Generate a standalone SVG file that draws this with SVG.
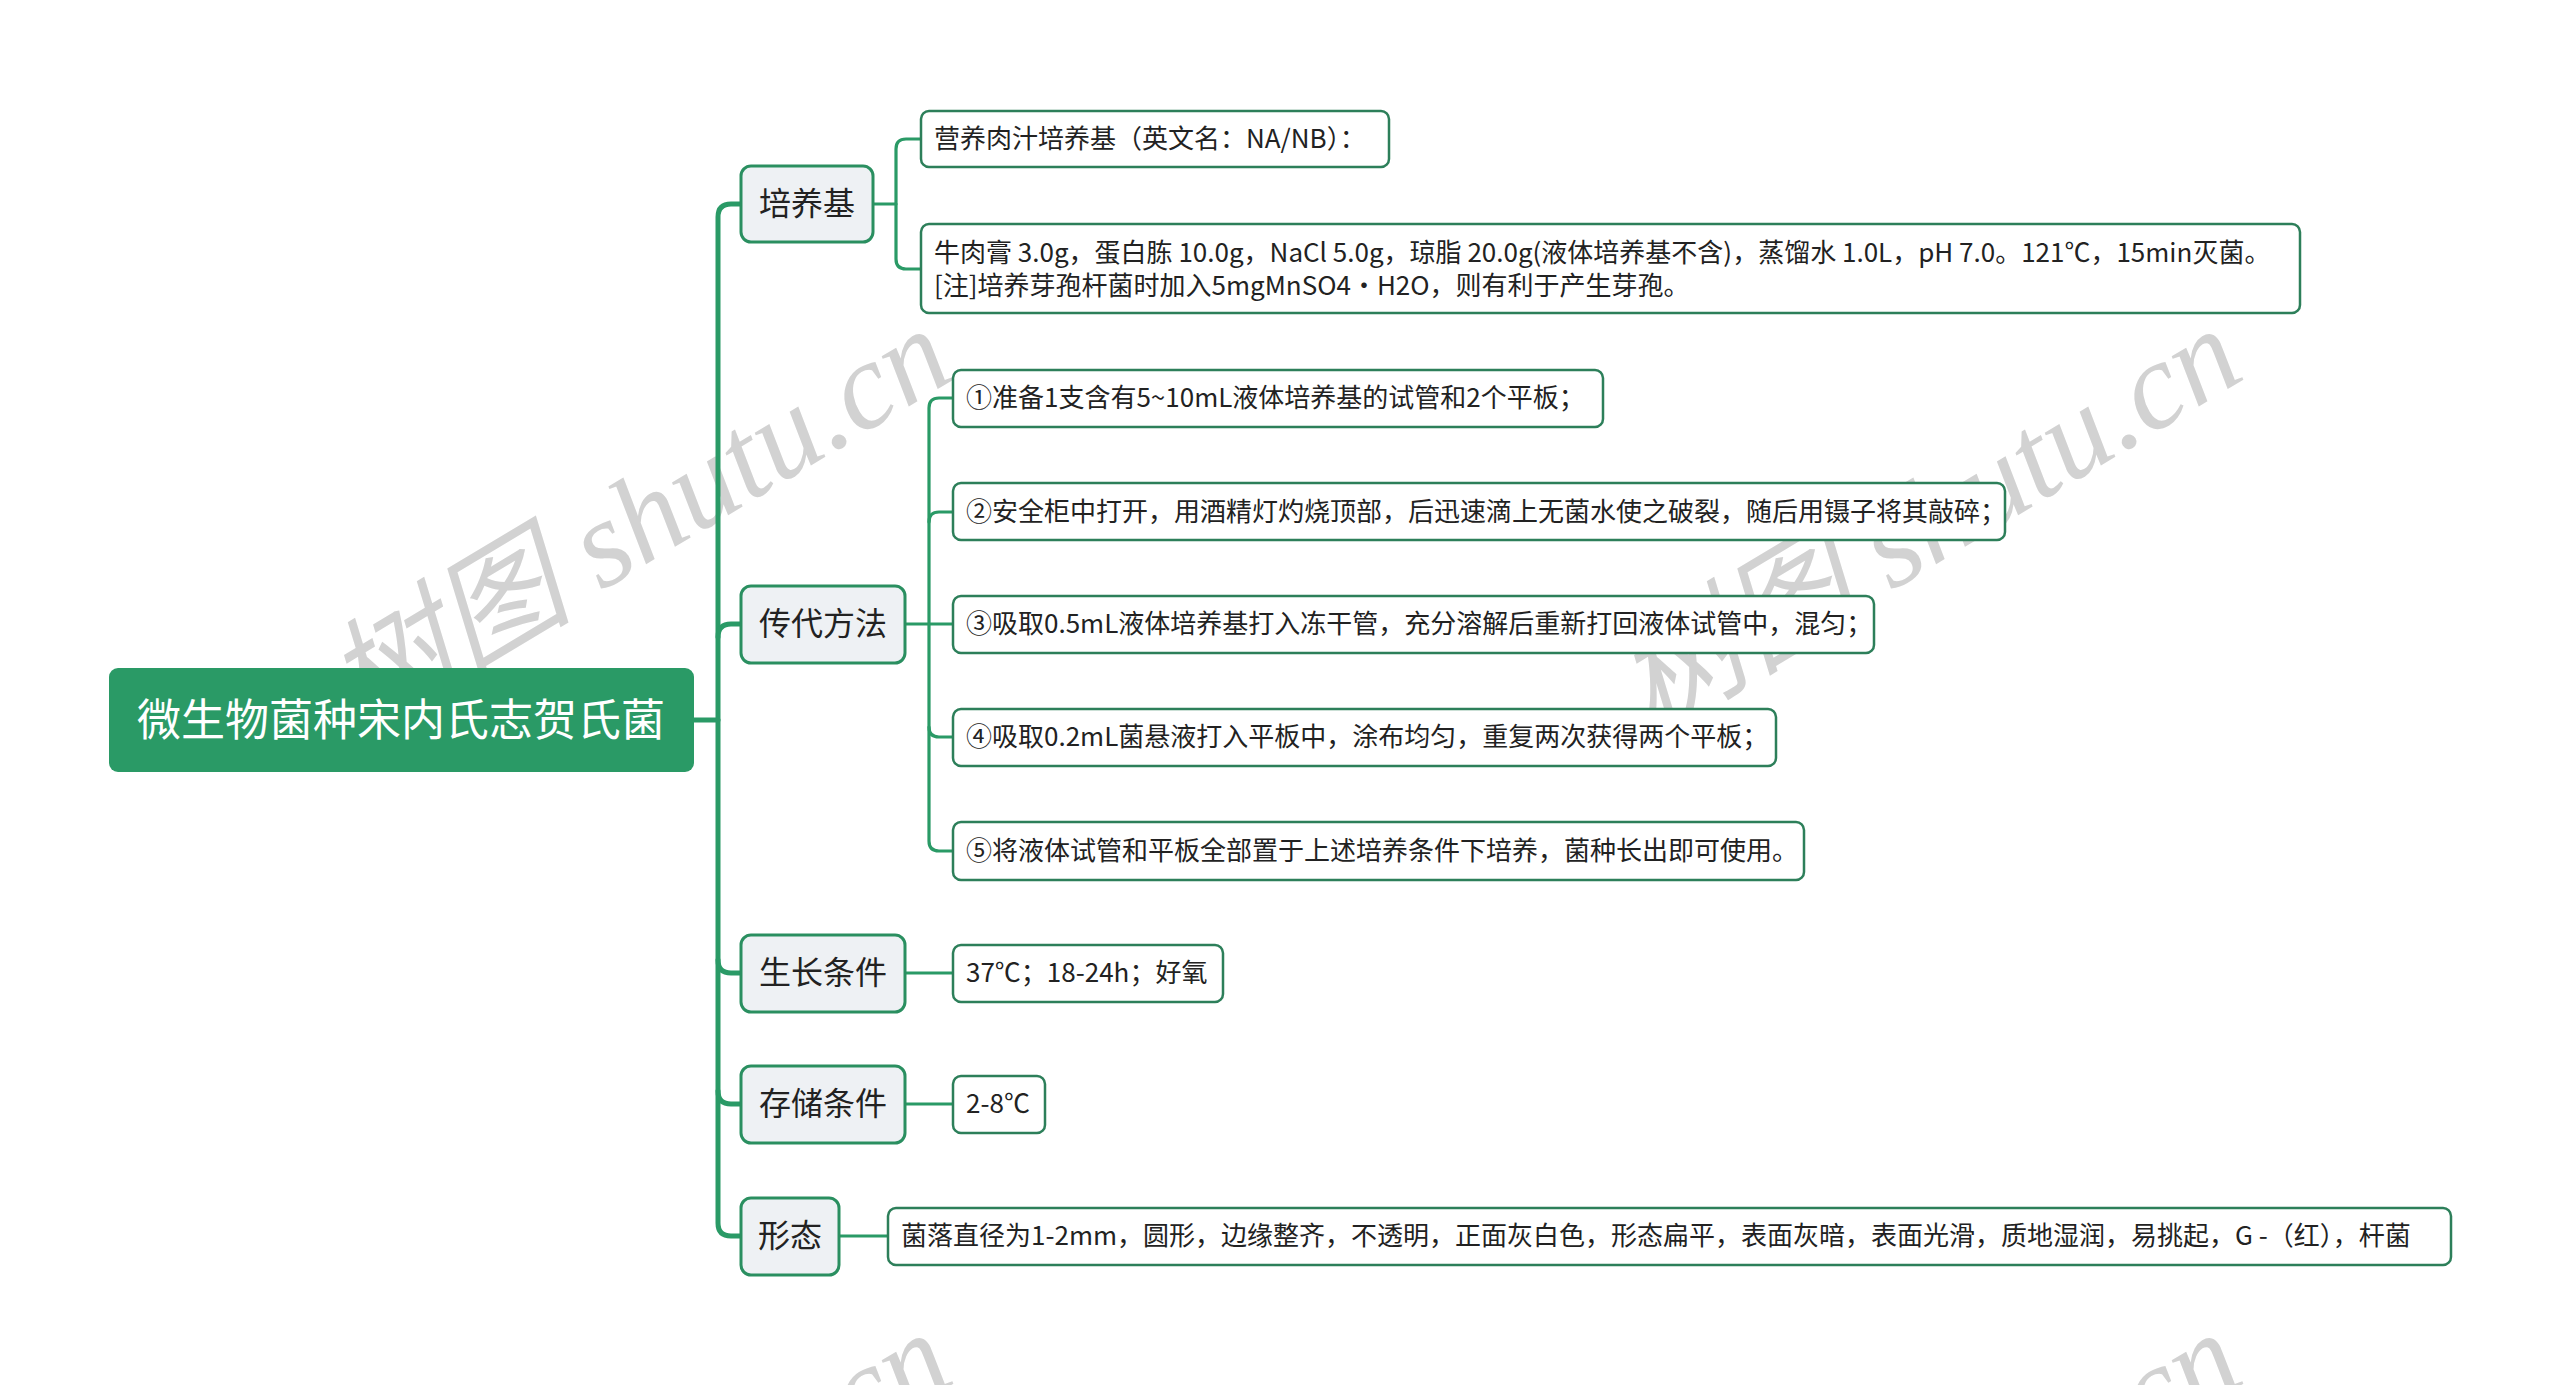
<svg xmlns="http://www.w3.org/2000/svg" width="2560" height="1385" viewBox="0 0 2560 1385">
<style>
.bg{fill:#ffffff}
.wm{fill:#d2d2d2;font-family:"Liberation Serif","Noto Sans CJK SC",serif;font-style:italic;font-size:124px}
.trunk{fill:none;stroke:#2a9a66;stroke-width:5;stroke-linecap:round}
.sub{fill:none;stroke:#2a9a66;stroke-width:3.2;stroke-linecap:round}
.root{fill:#2a9a66}
.roott{fill:#ffffff;font-family:"Noto Sans CJK SC","Noto Sans",sans-serif;font-size:44px;text-anchor:middle}
.l1{fill:#eef1f4;stroke:#2a8f60;stroke-width:3}
.l1t{fill:#222222;font-family:"Noto Sans CJK SC","Noto Sans",sans-serif;font-size:32px;text-anchor:middle}
.l2{fill:#ffffff;stroke:#2d7f5a;stroke-width:2.5}
.l2t{fill:#222222;font-family:"Noto Sans CJK SC","Noto Sans",sans-serif;font-size:26px}
</style>
<rect class="bg" x="0" y="0" width="2560" height="1385"/>
<g id="watermarks">
<text class="wm" transform="translate(660,556) rotate(-31)" text-anchor="middle">树图 shutu.cn</text>
<text class="wm" transform="translate(1950,556) rotate(-31)" text-anchor="middle">树图 shutu.cn</text>
<text class="wm" transform="translate(660,1560) rotate(-31)" text-anchor="middle">树图 shutu.cn</text>
<text class="wm" transform="translate(1950,1560) rotate(-31)" text-anchor="middle">树图 shutu.cn</text>
</g>
<g id="connectors">
<path class="trunk" d="M694,720 H718"/>
<path class="trunk" d="M741,204 H731 Q718,204 718,217 V1223 Q718,1236 731,1236 H741"/>
<path class="trunk" d="M718,637 Q718,624 731,624 H741"/>
<path class="trunk" d="M718,960 Q718,973 731,973 H741"/>
<path class="trunk" d="M718,1091 Q718,1104 731,1104 H741"/>
<path class="sub" d="M873,204 H896"/>
<path class="sub" d="M921,139 H906 Q896,139 896,149 V259 Q896,269 906,269 H921"/>
<path class="sub" d="M905,624 H953"/>
<path class="sub" d="M953,398 H939 Q929,398 929,408 V841 Q929,851 939,851 H953"/>
<path class="sub" d="M929,522 Q929,512 939,512 H953"/>
<path class="sub" d="M929,727 Q929,737 939,737 H953"/>
<path class="sub" d="M905,973 H953"/>
<path class="sub" d="M905,1104 H953"/>
<path class="sub" d="M839,1236 H888"/>
</g>
<g id="root">
<rect class="root" x="109" y="668" width="585" height="104" rx="9"/>
<text class="roott" x="401" y="736">微生物菌种宋内氏志贺氏菌</text>
</g>
<g id="n-peiyangji">
<rect class="l1" x="741" y="166" width="132" height="76" rx="10"/>
<text class="l1t" x="807" y="215">培养基</text>
</g>
<g id="n-chuandai">
<rect class="l1" x="741" y="586" width="164" height="77" rx="10"/>
<text class="l1t" x="823" y="635">传代方法</text>
</g>
<g id="n-shengzhang">
<rect class="l1" x="741" y="935" width="164" height="77" rx="10"/>
<text class="l1t" x="823" y="984">生长条件</text>
</g>
<g id="n-cunchu">
<rect class="l1" x="741" y="1066" width="164" height="77" rx="10"/>
<text class="l1t" x="823" y="1115">存储条件</text>
</g>
<g id="n-xingtai">
<rect class="l1" x="741" y="1198" width="98" height="77" rx="10"/>
<text class="l1t" x="790" y="1247">形态</text>
</g>
<g id="n-yingyang">
<rect class="l2" x="921" y="111" width="468" height="56" rx="8"/>
<text class="l2t" x="934" y="148">营养肉汁培养基（英文名：NA/NB）：</text>
</g>
<g id="n-peifang">
<rect class="l2" x="921" y="224" width="1379" height="89" rx="8"/>
<text class="l2t" x="934" y="262">牛肉膏 3.0g，蛋白胨 10.0g，NaCl 5.0g，琼脂 20.0g(液体培养基不含)，蒸馏水 1.0L，pH 7.0。121℃，15min灭菌。</text>
<text class="l2t" x="934" y="295">[注]培养芽孢杆菌时加入5mgMnSO4·H2O，则有利于产生芽孢。</text>
</g>
<g id="n-step1">
<rect class="l2" x="953" y="370" width="650" height="57" rx="8"/>
<text class="l2t" x="966" y="407">①准备1支含有5~10mL液体培养基的试管和2个平板；</text>
</g>
<g id="n-step2">
<rect class="l2" x="953" y="483" width="1052" height="57" rx="8"/>
<text class="l2t" x="966" y="521">②安全柜中打开，用酒精灯灼烧顶部，后迅速滴上无菌水使之破裂，随后用镊子将其敲碎；</text>
</g>
<g id="n-step3">
<rect class="l2" x="953" y="596" width="921" height="57" rx="8"/>
<text class="l2t" x="966" y="633">③吸取0.5mL液体培养基打入冻干管，充分溶解后重新打回液体试管中，混匀；</text>
</g>
<g id="n-step4">
<rect class="l2" x="953" y="709" width="823" height="57" rx="8"/>
<text class="l2t" x="966" y="746">④吸取0.2mL菌悬液打入平板中，涂布均匀，重复两次获得两个平板；</text>
</g>
<g id="n-step5">
<rect class="l2" x="953" y="822" width="851" height="58" rx="8"/>
<text class="l2t" x="966" y="860">⑤将液体试管和平板全部置于上述培养条件下培养，菌种长出即可使用。</text>
</g>
<g id="n-growth">
<rect class="l2" x="953" y="945" width="270" height="57" rx="8"/>
<text class="l2t" x="966" y="982">37℃；18-24h；好氧</text>
</g>
<g id="n-storage">
<rect class="l2" x="953" y="1076" width="92" height="57" rx="8"/>
<text class="l2t" x="966" y="1113">2-8℃</text>
</g>
<g id="n-morph">
<rect class="l2" x="888" y="1208" width="1563" height="57" rx="8"/>
<text class="l2t" x="901" y="1245">菌落直径为1-2mm，圆形，边缘整齐，不透明，正面灰白色，形态扁平，表面灰暗，表面光滑，质地湿润，易挑起，G -（红），杆菌</text>
</g>
</svg>
